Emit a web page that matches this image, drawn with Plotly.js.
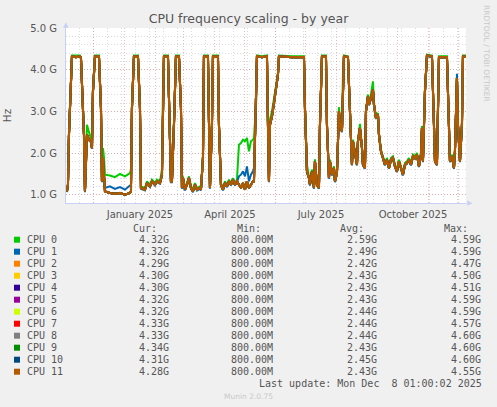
<!DOCTYPE html>
<html><head><meta charset="utf-8">
<script src="https://cdn.plot.ly/plotly-3.0.1.min.js"></script>
<style>html,body{margin:0;padding:0;background:#f0f0f0;overflow:hidden}#chart{width:497px;height:407px}</style>
</head><body><div id="chart"></div>
<script>
// ---- data (values in GHz) ----
const dates = [
"2024-11-04","2024-11-05","2024-11-06","2024-11-08","2024-11-09","2024-11-13","2024-11-17","2024-11-18","2024-11-19","2024-11-21",
"2024-11-22","2024-11-23","2024-11-24","2024-11-26","2024-11-28","2024-11-29","2024-11-30","2024-12-02","2024-12-06","2024-12-08",
"2024-12-09","2024-12-10","2024-12-11","2024-12-12","2024-12-17","2024-12-22","2024-12-27","2025-01-01","2025-01-06","2025-01-07",
"2025-01-08","2025-01-10","2025-01-14","2025-01-16","2025-01-17","2025-01-21","2025-01-23","2025-01-26","2025-01-28","2025-01-31",
"2025-02-02","2025-02-05","2025-02-07","2025-02-08","2025-02-09","2025-02-13","2025-02-14","2025-02-16","2025-02-17","2025-02-18",
"2025-02-19","2025-02-21","2025-02-24","2025-02-26","2025-02-27","2025-02-28","2025-03-02","2025-03-04","2025-03-06","2025-03-08",
"2025-03-10","2025-03-12","2025-03-14","2025-03-17","2025-03-18","2025-03-20","2025-03-21","2025-03-25","2025-03-26","2025-03-27",
"2025-03-29","2025-03-30","2025-04-04","2025-04-05","2025-04-07","2025-04-09","2025-04-11","2025-04-13","2025-04-15","2025-04-17",
"2025-04-19","2025-04-21","2025-04-23","2025-04-25","2025-04-27","2025-04-29","2025-05-01","2025-05-03","2025-05-05","2025-05-07",
"2025-05-09","2025-05-10","2025-05-12","2025-05-13","2025-05-18","2025-05-23","2025-05-24","2025-05-25","2025-05-26","2025-05-28",
"2025-05-30","2025-06-01","2025-06-03","2025-06-04","2025-06-17","2025-06-29","2025-06-30","2025-07-02","2025-07-04","2025-07-05",
"2025-07-07","2025-07-09","2025-07-10","2025-07-12","2025-07-14","2025-07-15","2025-07-17","2025-07-21","2025-07-22","2025-07-24",
"2025-07-25","2025-07-27","2025-07-29","2025-07-30","2025-08-01","2025-08-03","2025-08-04","2025-08-06","2025-08-07","2025-08-08",
"2025-08-12","2025-08-14","2025-08-16","2025-08-17","2025-08-19","2025-08-21","2025-08-22","2025-08-24","2025-08-26","2025-08-27",
"2025-08-29","2025-08-30","2025-09-01","2025-09-02","2025-09-04","2025-09-06","2025-09-07","2025-09-09","2025-09-11","2025-09-12",
"2025-09-14","2025-09-16","2025-09-18","2025-09-20","2025-09-22","2025-09-24","2025-09-26","2025-09-28","2025-09-30","2025-10-02",
"2025-10-04","2025-10-06","2025-10-08","2025-10-10","2025-10-12","2025-10-14","2025-10-16","2025-10-18","2025-10-20","2025-10-22",
"2025-10-24","2025-10-25","2025-10-26","2025-10-28","2025-10-30","2025-11-04","2025-11-06","2025-11-07","2025-11-09","2025-11-10",
"2025-11-11","2025-11-19","2025-11-21","2025-11-22","2025-11-24","2025-11-26","2025-11-27","2025-11-29","2025-11-30","2025-12-02",
"2025-12-04","2025-12-05","2025-12-08"
];

const cpu0 = [
1.08,1.24,2.50,3.92,4.34,4.34,4.34,4.30,3.66,2.46,
1.10,1.76,2.68,2.50,2.35,2.16,3.52,4.34,4.34,3.10,
1.36,2.12,1.90,1.48,1.46,1.42,1.50,1.44,1.52,1.60,
3.10,4.34,4.34,3.10,1.20,1.16,1.32,1.24,1.36,1.28,
1.36,1.32,1.60,3.52,4.34,4.34,3.10,1.36,1.36,1.88,
2.72,4.34,4.34,3.10,1.20,1.44,1.16,1.28,1.44,1.20,
1.12,1.28,1.16,1.20,1.16,1.92,4.34,4.34,2.70,1.20,
2.72,4.34,4.34,2.70,1.28,1.16,1.32,1.24,1.36,1.28,
1.40,1.28,1.36,2.20,2.24,2.32,2.28,2.36,2.04,2.28,
2.32,2.36,3.12,4.34,4.32,4.34,2.70,1.40,2.80,3.00,
3.30,3.65,3.92,4.34,4.32,4.32,3.10,1.72,1.44,1.28,
1.60,1.20,1.85,1.28,1.20,2.72,4.34,4.34,2.70,1.44,
1.84,1.52,1.68,1.36,1.56,3.10,2.72,2.56,3.92,4.34,
4.32,3.10,1.76,2.32,2.00,1.76,2.32,2.70,2.16,1.76,
1.68,3.04,3.40,3.20,3.40,3.72,3.20,2.88,2.96,2.48,
2.08,1.92,1.76,1.88,1.68,1.88,1.92,1.72,1.60,1.84,
1.68,1.52,1.76,1.80,1.88,1.76,1.96,1.92,2.00,1.72,
2.00,2.65,1.84,3.52,4.36,4.34,2.72,1.84,1.76,3.52,
4.32,4.32,2.72,1.84,1.96,1.68,2.08,3.82,2.72,1.84,
2.72,4.34,4.34
];

const cpu1 = [
1.06,1.22,2.40,3.86,4.32,4.30,4.32,4.28,3.62,2.42,
1.06,1.70,2.42,2.30,2.26,2.10,3.46,4.32,4.32,3.06,
1.30,1.86,1.54,1.16,1.20,1.14,1.18,1.12,1.22,1.24,
3.06,4.32,4.32,3.06,1.14,1.10,1.26,1.18,1.30,1.22,
1.30,1.26,1.46,3.46,4.32,4.32,3.06,1.30,1.30,1.82,
2.66,4.32,4.32,3.06,1.14,1.38,1.10,1.22,1.38,1.14,
1.06,1.22,1.10,1.14,1.10,1.86,4.32,4.32,2.66,1.14,
2.66,4.32,4.32,2.66,1.22,1.10,1.26,1.18,1.30,1.22,
1.34,1.22,1.30,1.44,1.48,1.56,1.44,1.68,1.32,1.48,
1.56,1.64,3.06,4.32,4.30,4.32,2.66,1.30,2.66,2.86,
3.18,3.54,3.86,4.32,4.30,4.30,3.06,1.54,1.38,1.22,
1.54,1.14,1.78,1.22,1.14,2.66,4.32,4.32,2.66,1.38,
1.78,1.46,1.62,1.30,1.50,2.98,2.66,2.50,3.86,4.32,
4.30,3.06,1.70,2.26,1.94,1.70,2.26,2.58,2.10,1.70,
1.62,2.98,3.34,3.14,3.30,3.50,3.14,2.82,2.90,2.42,
2.02,1.86,1.70,1.82,1.62,1.82,1.86,1.66,1.54,1.78,
1.62,1.46,1.70,1.74,1.82,1.70,1.90,1.86,1.94,1.66,
1.94,2.58,1.78,3.46,4.32,4.30,2.66,1.78,1.70,3.46,
4.30,4.30,2.66,1.78,1.90,1.62,2.02,3.90,2.66,1.78,
2.66,4.30,4.32
];

// CPUs 2-11 draw on top of each other in the picture; their readings are the same trace
const cpuOthers = [
1.08,1.24,2.44,3.88,4.32,4.30,4.32,4.28,3.64,2.44,
1.08,1.72,2.44,2.32,2.28,2.12,3.48,4.32,4.32,3.08,
1.32,1.88,1.56,1.08,1.04,1.02,1.04,1.00,1.04,1.08,
3.08,4.32,4.32,3.08,1.16,1.12,1.28,1.20,1.32,1.24,
1.32,1.28,1.48,3.48,4.32,4.32,3.08,1.32,1.32,1.84,
2.68,4.32,4.32,3.08,1.16,1.40,1.12,1.24,1.40,1.16,
1.08,1.24,1.12,1.16,1.12,1.88,4.32,4.32,2.68,1.16,
2.68,4.32,4.32,2.68,1.24,1.12,1.28,1.20,1.32,1.24,
1.36,1.24,1.32,1.24,1.16,1.28,1.12,1.32,1.16,1.24,
1.32,1.32,3.08,4.32,4.30,4.32,2.68,1.32,2.68,2.88,
3.20,3.56,3.88,4.32,4.30,4.30,3.08,1.56,1.40,1.24,
1.56,1.16,1.80,1.24,1.16,2.68,4.32,4.32,2.68,1.40,
1.80,1.48,1.64,1.32,1.52,3.00,2.68,2.52,3.88,4.32,
4.30,3.08,1.72,2.28,1.96,1.72,2.28,2.60,2.12,1.72,
1.64,3.00,3.36,3.16,3.32,3.52,3.16,2.84,2.92,2.44,
2.04,1.88,1.72,1.84,1.64,1.84,1.88,1.68,1.56,1.80,
1.64,1.48,1.72,1.76,1.84,1.72,1.92,1.88,1.96,1.68,
1.96,2.60,1.80,3.48,4.34,4.32,2.68,1.80,1.72,3.48,
4.30,4.30,2.68,1.80,1.92,1.64,2.04,3.80,2.68,1.80,
2.68,4.32,4.32
];

const cpuNames = ["CPU 0","CPU 1","CPU 2","CPU 3","CPU 4","CPU 5","CPU 6","CPU 7","CPU 8","CPU 9","CPU 10","CPU 11"];
const cpuColors = ["#00CC00","#0066B3","#FF8000","#FFCC00","#330099","#990099","#CCFF00","#FF0000","#808080","#008F00","#00487D","#B35A00"];
const curVals = ["4.32G","4.32G","4.29G","4.30G","4.30G","4.32G","4.32G","4.33G","4.33G","4.34G","4.31G","4.28G"];
const minVals = ["800.00M","800.00M","800.00M","800.00M","800.00M","800.00M","800.00M","800.00M","800.00M","800.00M","800.00M","800.00M"];
const avgVals = ["2.59G","2.49G","2.42G","2.43G","2.43G","2.43G","2.44G","2.44G","2.44G","2.43G","2.45G","2.43G"];
const maxVals = ["4.59G","4.59G","4.47G","4.50G","4.51G","4.59G","4.59G","4.57G","4.60G","4.60G","4.60G","4.55G"];
const yTickVals = [1,2,3,4,5];
const yTickText = ["1.0 G","2.0 G","3.0 G","4.0 G","5.0 G"];
const xTickVals = ["2025-01-16","2025-04-16","2025-07-16","2025-10-16"];
const xTickText = ["January 2025","April 2025","July 2025","October 2025"];
const colHeads = ["Cur:","Min:","Avg:","Max:"];
const lastUpdate = "Last update: Mon Dec\u00a0 8 01:00:02 2025";

const seriesValues = [cpu0, cpu1, cpuOthers, cpuOthers, cpuOthers, cpuOthers, cpuOthers, cpuOthers, cpuOthers, cpuOthers, cpuOthers, cpuOthers];

// ---- layout helpers (pixel placement of the text table) ----
const L = 66, T = 28, PW = 400, PH = 175, B = T + PH;
const px = x => (x - L) / PW;
const py = y => (B - y) / PH;
const txt = "#555555";
const mono = "DejaVu Sans Mono";

const traces = cpuNames.map((n, i) => ({
  type: "scatter", mode: "lines", x: dates, y: seriesValues[i], name: n,
  line: {color: cpuColors[i], width: i === 11 ? 2.2 : 2},
  hoverinfo: "skip", showlegend: false
}));
traces.push({type: "scatter", mode: "lines", x: [], y: [], xaxis: "x2", yaxis: "y", showlegend: false, hoverinfo: "skip"});

const annotations = [];
const shapes = [];
const colRight = [171, 275, 379, 483];
const headRight = [159, 263, 366, 470];
colHeads.forEach((h, j) => annotations.push({xref: "paper", yref: "paper", x: px(headRight[j]), y: py(228), xanchor: "right", yanchor: "middle", text: h, showarrow: false, font: {family: mono, size: 10, color: txt}}));
const cols = [curVals, minVals, avgVals, maxVals];
cpuNames.forEach((n, i) => {
  const yy = 239.7 + 12 * i;
  shapes.push({type: "rect", xref: "paper", yref: "paper", x0: px(14), x1: px(20), y0: py(yy + 3), y1: py(yy - 3), fillcolor: cpuColors[i], line: {width: 0}});
  annotations.push({xref: "paper", yref: "paper", x: px(25), y: py(yy), xanchor: "left", yanchor: "middle", text: n, showarrow: false, font: {family: mono, size: 10, color: txt}});
  cols.forEach((c, j) => annotations.push({xref: "paper", yref: "paper", x: px(colRight[j]), y: py(yy), xanchor: "right", yanchor: "middle", text: c[i], showarrow: false, font: {family: mono, size: 10, color: txt}}));
});
annotations.push({xref: "paper", yref: "paper", x: px(484), y: py(383.7), xanchor: "right", yanchor: "middle", text: lastUpdate, showarrow: false, font: {family: mono, size: 10, color: txt}});
annotations.push({xref: "paper", yref: "paper", x: px(248), y: py(396.5), xanchor: "center", yanchor: "middle", text: "Munin 2.0.75", showarrow: false, font: {family: "DejaVu Sans", size: 7.5, color: "#c8c8c8"}});
annotations.push({xref: "paper", yref: "paper", x: px(487), y: py(53), xanchor: "center", yanchor: "middle", textangle: 90, text: "RRDTOOL / TOBI OETIKER", showarrow: false, font: {family: "DejaVu Sans", size: 7.5, color: "#c8c8c8"}});
// axis arrowheads
annotations.push({xref: "paper", yref: "paper", x: 0, y: 1, xanchor: "center", yanchor: "bottom", yshift: -3, text: "\u25B2", showarrow: false, font: {family: "DejaVu Sans", size: 7, color: "#c8d0f4"}});
annotations.push({xref: "paper", yref: "paper", x: 1, y: 0, xanchor: "left", yanchor: "middle", xshift: -1, text: "\u25B6", showarrow: false, font: {family: "DejaVu Sans", size: 7, color: "#c8d0f4"}});

const gridRed = "rgba(230,120,120,0.5)";
const gridGray = "rgba(185,185,185,0.5)";
const dash = "1px,2px";
const xRange = ["2024-11-03 01:00", "2025-12-08 01:00"];

const layout = {
  width: 497, height: 407,
  margin: {l: L, r: 497 - L - PW, t: T, b: 407 - B, pad: 0},
  paper_bgcolor: "#f0f0f0", plot_bgcolor: "#ffffff",
  font: {family: "DejaVu Sans", size: 10, color: txt},
  title: {text: "CPU frequency scaling - by year", font: {family: "DejaVu Sans", size: 12.5, color: txt}, xref: "container", x: 0.5, xanchor: "center", yref: "container", y: 1 - 19 / 407, yanchor: "middle"},
  xaxis: {
    type: "date", range: xRange, fixedrange: true,
    tickmode: "array", tickvals: xTickVals, ticktext: xTickText, ticks: "", ticklabelstandoff: 2,
    showgrid: false, zeroline: false,
    showline: true, linecolor: "#c8d0f4", linewidth: 1,
    minor: {tickmode: "linear", tick0: "2024-11-17", dtick: 14 * 86400000, showgrid: true, gridcolor: gridGray, griddash: dash, gridwidth: 1, ticks: ""},
    tickfont: {family: "DejaVu Sans", size: 10, color: txt}
  },
  xaxis2: {
    type: "date", overlaying: "x", range: xRange, fixedrange: true, side: "bottom",
    tickmode: "linear", tick0: "2024-11-01", dtick: "M1", showticklabels: false, ticks: "",
    showgrid: true, gridcolor: gridRed, griddash: dash, gridwidth: 1, zeroline: false, showline: false
  },
  yaxis: {
    range: [0.8, 5.0], fixedrange: true,
    tickmode: "array", tickvals: yTickVals, ticktext: yTickText, ticks: "", ticklabelstandoff: 6,
    showgrid: true, gridcolor: gridRed, griddash: dash, gridwidth: 1, zeroline: false,
    showline: true, linecolor: "#c8d0f4", linewidth: 1,
    minor: {tickmode: "linear", tick0: 0, dtick: 0.2, showgrid: true, gridcolor: gridGray, griddash: dash, gridwidth: 1, ticks: ""},
    title: {text: "Hz", font: {family: "DejaVu Sans", size: 10.5, color: txt}, standoff: 16},
    tickfont: {family: "DejaVu Sans", size: 10, color: txt}
  },
  showlegend: false,
  annotations: annotations,
  shapes: shapes
};

Plotly.newPlot("chart", traces, layout, {displayModeBar: false, staticPlot: true});
</script>
</body></html>
